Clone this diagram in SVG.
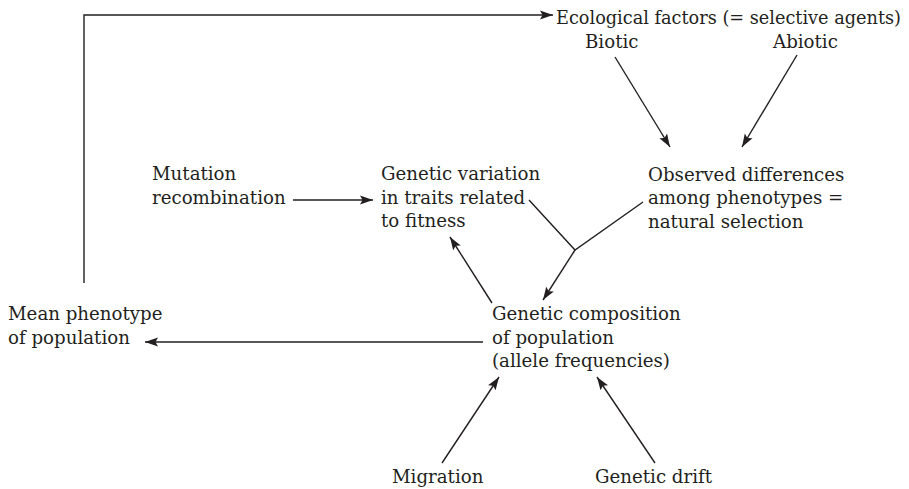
<svg xmlns="http://www.w3.org/2000/svg" width="909" height="489" viewBox="0 0 909 489">
<style>
text{font-family:"DejaVu Serif","Liberation Serif",serif;font-size:18.2px;fill:#231f20}
.c{fill:none;stroke:#231f20;stroke-width:1.4}
.a{marker-end:url(#ah)}
</style>
<defs>
<marker id="ah" markerUnits="userSpaceOnUse" viewBox="0 0 14 10" refX="13" refY="5" markerWidth="14" markerHeight="10" orient="auto">
<path d="M0,0.5 L13,5 L0,9.5 L2.5,5 z" fill="#231f20"/>
</marker>
</defs>
<rect width="909" height="489" fill="#fff"/>
<g id="connectors">
<path class="c a" d="M84,283 V15 H553"/>
<line class="c a" x1="615" y1="57" x2="670" y2="147"/>
<line class="c a" x1="797" y1="55" x2="742" y2="147"/>
<line class="c a" x1="293" y1="200" x2="373" y2="200"/>
<polyline class="c" points="529,200 575,250 643,202"/>
<line class="c a" x1="575" y1="250" x2="543" y2="300"/>
<line class="c a" x1="492" y1="303" x2="450" y2="237"/>
<line class="c a" x1="483" y1="342" x2="145" y2="342"/>
<line class="c a" x1="442" y1="463" x2="499" y2="377"/>
<line class="c a" x1="655" y1="463" x2="597" y2="377"/>
</g>
<g id="ecological"><text x="556" y="24" textLength="345" lengthAdjust="spacingAndGlyphs">Ecological factors (= selective agents)</text></g>
<g id="biotic"><text x="585" y="48">Biotic</text></g>
<g id="abiotic"><text x="773" y="48">Abiotic</text></g>
<g id="observed"><text x="648" y="181">Observed differences</text><text x="648" y="204">among phenotypes =</text><text x="648" y="228">natural selection</text></g>
<g id="mutation"><text x="152" y="180">Mutation</text><text x="152" y="204">recombination</text></g>
<g id="variation"><text x="381" y="180">Genetic variation</text><text x="381" y="204">in traits related</text><text x="381" y="227">to fitness</text></g>
<g id="composition"><text x="492" y="320">Genetic composition</text><text x="492" y="344">of population</text><text x="492" y="367">(allele frequencies)</text></g>
<g id="mean"><text x="8" y="320">Mean phenotype</text><text x="8" y="344">of population</text></g>
<g id="migration"><text x="392" y="483">Migration</text></g>
<g id="drift"><text x="595" y="483">Genetic drift</text></g>
</svg>
